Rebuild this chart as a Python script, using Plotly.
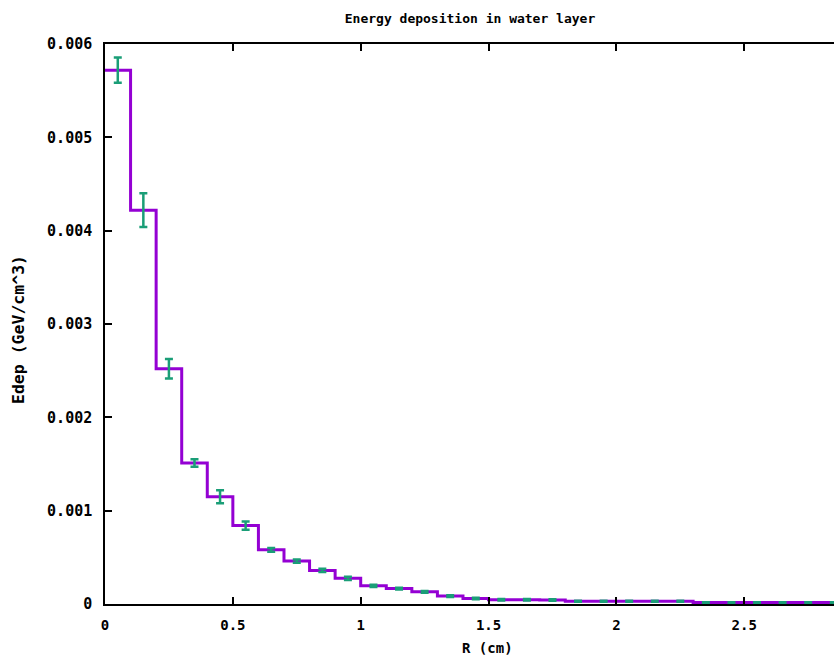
import plotly.graph_objects as go

# Data
r_low = [0.0, 0.1, 0.2, 0.3, 0.4, 0.5, 0.6, 0.7, 0.8, 0.9,
         1.0, 1.1, 1.2, 1.3, 1.4, 1.5, 1.6, 1.7, 1.8, 1.9,
         2.0, 2.1, 2.2, 2.3, 2.4, 2.5, 2.6, 2.7, 2.8]
bin_width = 0.1
edep = [5.72e-3, 4.22e-3, 2.52e-3, 1.51e-3, 1.15e-3, 0.84e-3, 0.58e-3, 0.46e-3, 0.36e-3, 0.275e-3,
        0.195e-3, 0.165e-3, 0.13e-3, 0.085e-3, 0.06e-3, 0.045e-3, 0.045e-3, 0.042e-3, 0.03e-3, 0.03e-3,
        0.03e-3, 0.03e-3, 0.03e-3, 0.015e-3, 0.015e-3, 0.015e-3, 0.015e-3, 0.015e-3, 0.015e-3]
err = [0.135e-3, 0.18e-3, 0.105e-3, 0.04e-3, 0.07e-3, 0.045e-3, 0.02e-3, 0.018e-3, 0.018e-3, 0.018e-3,
       0.012e-3, 0.01e-3, 0.01e-3, 0.01e-3, 0.008e-3, 0.008e-3, 0.008e-3, 0.008e-3, 0.006e-3, 0.006e-3,
       0.006e-3, 0.006e-3, 0.006e-3, 0.005e-3, 0.005e-3, 0.005e-3, 0.005e-3, 0.005e-3, 0.005e-3]

y_ticks = [0, 0.001, 0.002, 0.003, 0.004, 0.005, 0.006]
y_ticktext = ["0", "0.001", "0.002", "0.003", "0.004", "0.005", "0.006"]
x_ticks = [0, 0.5, 1, 1.5, 2, 2.5]
x_ticktext = ["0", "0.5", "1", "1.5", "2", "2.5"]

r_center = [r + bin_width / 2 for r in r_low]
step_x = r_low + [r_low[-1] + bin_width]
step_y = edep + [edep[-1]]

FONT = "DejaVu Sans Mono"
PURPLE = "#9400d3"
TEAL = "#1a9e77"
W, H = 834, 657
L, R, T, B = 105, 0, 44, 53
PW, PH = W - L - R, H - T - B


def px_to_paper(px, py):
    return (px - L) / PW, (H - B - py) / PH


fig = go.Figure()
fig.add_trace(go.Scatter(
    x=step_x, y=step_y, mode="lines", line_shape="hv",
    line=dict(color=PURPLE, width=3), showlegend=False, hoverinfo="skip"))
fig.add_trace(go.Scatter(
    x=r_center, y=edep, mode="markers",
    marker=dict(size=1, color=TEAL, opacity=0),
    error_y=dict(type="data", array=err, visible=True, color=TEAL, thickness=2.5, width=4),
    showlegend=False))

xt_x, xt_y = px_to_paper(487, 648)
yt_x, yt_y = px_to_paper(18, 330)

fig.update_layout(
    width=W, height=H,
    margin=dict(l=L, r=R, t=T, b=B, autoexpand=False),
    paper_bgcolor="white", plot_bgcolor="white",
    font=dict(family=FONT, size=15, color="black"),
    title=dict(text="<b>Energy deposition in water layer</b>", x=470 / W, xanchor="center",
               y=1 - 18 / H, yanchor="middle", font=dict(family=FONT, size=13, color="black")),
    xaxis=dict(range=[0, 2.851], tickvals=x_ticks, ticktext=["<b>%s</b>" % t for t in x_ticktext],
               showgrid=False, zeroline=False, showline=True, linecolor="black", linewidth=1.5,
               mirror="ticks", ticks="inside", ticklen=7, tickcolor="black", tickwidth=1.5,
               automargin=False, tickfont=dict(size=14), ticklabelstandoff=7),
    yaxis=dict(range=[0, 0.006], tickvals=y_ticks, ticktext=["<b>%s</b>" % t for t in y_ticktext],
               showgrid=False, zeroline=False, showline=True, linecolor="black", linewidth=1.5,
               mirror=False, ticks="inside", ticklen=7, tickcolor="black", tickwidth=1.5,
               automargin=False, tickfont=dict(size=15), ticklabelstandoff=8),
    annotations=[
        dict(text="<b>R (cm)</b>", x=xt_x, y=xt_y, xref="paper", yref="paper",
             xanchor="center", yanchor="middle", showarrow=False, font=dict(family=FONT, size=14)),
        dict(text="<b>Edep (GeV/cm^3)</b>", x=yt_x, y=yt_y, xref="paper", yref="paper",
             xanchor="center", yanchor="middle", textangle=-90, showarrow=False,
             font=dict(family=FONT, size=16.5)),
    ],
)

fig.write_html("out.html", config={"displayModeBar": False},
               post_script="document.body.style.margin='0px';")
